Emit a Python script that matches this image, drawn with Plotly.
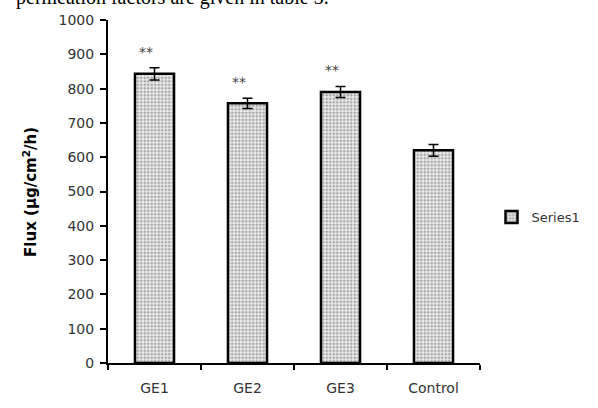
import plotly.graph_objects as go

# Flux per formulation (µg/cm²/h) with standard error
categories = ["GE1", "GE2", "GE3", "Control"]
flux = [843, 757, 790, 620]
flux_err = [18, 15, 16, 17]
significance = ["**", "**", "**", ""]
y_ticks = [0, 100, 200, 300, 400, 500, 600, 700, 800, 900, 1000]

W, H = 598, 408
ML, MR, MT, MB = 108, 102, 20, 33
plot_w = W - ML - MR
plot_h = H - MT - MB


def px_x(p):
    return (p - ML) / plot_w


def px_y(p):
    return (H - MB - p) / plot_h


fig = go.Figure()
fig.add_trace(go.Bar(
    x=categories,
    y=flux,
    name="Series1",
    marker=dict(
        color="#ffffff",
        line=dict(color="#000000", width=2.5),
        pattern=dict(shape=".", fgcolor="#5e5e5e", bgcolor="#ececec",
                     size=3.5, solidity=0.45),
    ),
    error_y=dict(type="data", array=flux_err, color="#000000",
                 thickness=1.5, width=5),
    showlegend=True,
))

tick_font = dict(family="DejaVu Sans", size=14, color="#333333")

annotations = []
for cat, v, e, s in zip(categories, flux, flux_err, significance):
    if s:
        annotations.append(dict(
            x=cat, y=v + e + 47, xref="x", yref="y", text=s,
            showarrow=False, xshift=-9,
            font=dict(family="DejaVu Sans", size=14, color="#444444"),
        ))

# y-axis title, centred on the plot area
annotations.append(dict(
    x=px_x(26), y=0.5, xref="paper", yref="paper",
    text="<b>Flux (µg/cm<sup>2</sup>/h)</b>", textangle=-90, showarrow=False,
    font=dict(family="DejaVu Sans", size=15, color="#000000"),
    xanchor="center", yanchor="middle",
))
# running text of the surrounding page, cut by the top edge
annotations.append(dict(
    x=px_x(10), y=px_y(-3), xref="paper", yref="paper",
    text="permeation factors are given in table 3.", showarrow=False,
    font=dict(family="Liberation Serif", size=20, color="#000000"),
    xanchor="left", yanchor="middle",
))

fig.update_layout(
    width=W, height=H,
    margin=dict(l=ML, r=MR, t=MT, b=MB),
    paper_bgcolor="#ffffff", plot_bgcolor="#ffffff",
    bargap=0.58,
    annotations=annotations,
    legend=dict(
        x=px_x(508), y=px_y(224), xanchor="left", yanchor="middle",
        font=dict(family="DejaVu Sans", size=13, color="#333333"),
        itemwidth=30, bgcolor="rgba(0,0,0,0)",
    ),
    xaxis=dict(
        showline=True, linecolor="#000000", linewidth=2,
        ticks="outside", ticklen=5, tickwidth=1.5, tickcolor="#000000",
        tickson="boundaries", tickfont=tick_font,
        ticklabelstandoff=11, showgrid=False,
    ),
    yaxis=dict(
        range=[0, 1000], tickvals=y_ticks,
        showline=True, linecolor="#000000", linewidth=2,
        ticks="outside", ticklen=6, tickwidth=1.5, tickcolor="#000000",
        tickfont=tick_font, ticklabelstandoff=3,
        showgrid=False, zeroline=False,
    ),
)

fig.write_html("out.html")
